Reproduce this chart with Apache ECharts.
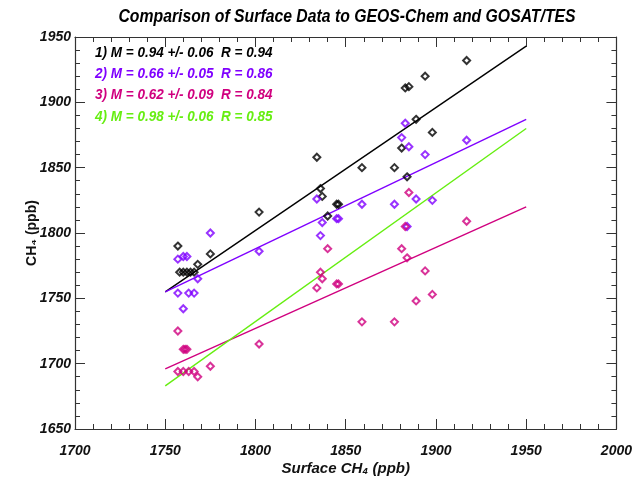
<!DOCTYPE html>
<html><head><meta charset="utf-8">
<script src="https://cdn.jsdelivr.net/npm/echarts@6/dist/echarts.min.js"></script>
<style>html,body{margin:0;padding:0;background:#fff}#c{width:635px;height:481px}</style>
</head><body><div id="c"></div>
<script>
var titleText = 'Comparison of Surface Data to GEOS-Chem and GOSAT/TES';
var xName = 'Surface CH\u2084 (ppb)';
var yName = 'CH\u2084 (ppb)';
var statLines = [
  '1) M = 0.94 +/- 0.06  R = 0.94',
  '2) M = 0.66 +/- 0.05  R = 0.86',
  '3) M = 0.62 +/- 0.09  R = 0.84',
  '4) M = 0.98 +/- 0.06  R = 0.85'
];
var colors = ['#000000', '#7f00ff', '#d0007f', '#66ee11'];

var series1 = [[1917,1932],[1894,1920],[1883,1911],[1885,1912],[1889,1887],[1898,1877],[1881,1865],[1877,1850],[1884,1843],
  [1834,1858],[1859,1850],[1836,1834],[1837,1828],[1845,1822],[1846,1822],[1840,1813],[1802,1816],
  [1757,1790],[1775,1784],[1768,1776],[1758,1770],[1760,1770],[1762,1770],[1764,1770],[1766,1770]];
var series2 = [[1775,1800],[1834,1826],[1859,1822],[1845,1811],[1846,1811],[1837,1808],[1836,1798],[1802,1786],
  [1757,1780],[1760,1782],[1762,1782],[1768,1765],[1757,1754],[1763,1754],[1766,1754],[1760,1742],
  [1883,1884],[1881,1873],[1885,1866],[1894,1860],[1917,1871],[1877,1822],[1889,1826],[1898,1825],[1884,1805]];
var series3 = [[1840,1788],[1836,1770],[1837,1765],[1834,1758],[1845,1761],[1846,1761],[1859,1732],[1802,1715],
  [1757,1725],[1760,1711],[1761,1711],[1762,1711],[1757,1694],[1760,1694],[1763,1694],[1766,1694],[1768,1690],[1775,1698],
  [1885,1831],[1883,1805],[1917,1809],[1881,1788],[1884,1781],[1894,1771],[1898,1753],[1889,1748],[1877,1732]];
var fitX = [1750, 1950];
var fit1 = [1755, 1943];
var fit2 = [1755, 1887];
var fit3 = [1696, 1820];
var fit4 = [1683, 1880];

var FONT = "'Liberation Sans',Arial,sans-serif";
var axisCol = '#333';

function pairs(xs, ys){ return xs.map(function(x,i){return [x, ys[i]];}); }
function scatter(data, col){
  return {type:'scatter', data:data, symbol:'diamond', symbolSize:7, z:3,
    itemStyle:{color:'rgba(0,0,0,0)', borderColor:col, borderWidth:2}};
}
function fit(ys, col){
  return {type:'line', data:pairs(fitX, ys), showSymbol:false, symbol:'none', z:2,
    lineStyle:{color:col, width:1.4}};
}
function baseAxis(extra){
  var a = {type:'value', min:1650, max:1950, interval:50,
    axisLine:{show:true, lineStyle:{color:axisCol, width:1.2}},
    axisTick:{show:true, inside:true, length:10, lineStyle:{color:axisCol}},
    minorTick:{show:true, splitNumber:5, length:5, lineStyle:{color:axisCol}},
    splitLine:{show:false}};
  for (var k in extra) a[k] = extra[k];
  return a;
}
var lblStyle = {fontFamily:FONT, fontSize:14, fontWeight:'bold', fontStyle:'italic', color:'#111',
  formatter:function(v){return String(v);}};

var chart = echarts.init(document.getElementById('c'));
var gtexts = statLines.map(function(s,i){
  return {type:'text', x:95, y:45 + i*21.3, scaleX:0.9,
    style:{text:s, fill:colors[i], font:'italic bold 15px ' + FONT}};
});
gtexts.push({type:'text', x:347, y:17, scaleX:0.83,
  style:{text:titleText, fill:'#000', font:'italic bold 19px ' + FONT, textAlign:'center', textVerticalAlign:'middle'}});
chart.setOption({
  animation:false,
  backgroundColor:'#fff',
  grid:{left:75, right:16, top:37, bottom:46, containLabel:false},
  xAxis:[
    baseAxis({min:1700, max:2000, position:'bottom', name:xName, nameLocation:'middle', nameGap:32, nameMoveOverlap:false,
      nameTextStyle:{fontFamily:FONT, fontSize:15, fontWeight:'bold', fontStyle:'italic', color:'#111'},
      axisLabel:Object.assign({margin:15}, lblStyle)}),
    baseAxis({min:1700, max:2000, position:'top', axisLabel:{show:false}})
  ],
  yAxis:[
    baseAxis({position:'left', name:yName, nameLocation:'middle', nameGap:36, nameRotate:90, nameMoveOverlap:false,
      nameTextStyle:{fontFamily:FONT, fontSize:14, fontWeight:'bold', color:'#111'},
      axisLabel:Object.assign({margin:4}, lblStyle)}),
    baseAxis({position:'right', axisLabel:{show:false}})
  ],
  graphic:gtexts,
  series:[
    scatter(series1, colors[0]), scatter(series2, colors[1]), scatter(series3, colors[2]),
    fit(fit1, colors[0]), fit(fit2, colors[1]), fit(fit3, colors[2]), fit(fit4, colors[3])
  ]
});
</script></body></html>
